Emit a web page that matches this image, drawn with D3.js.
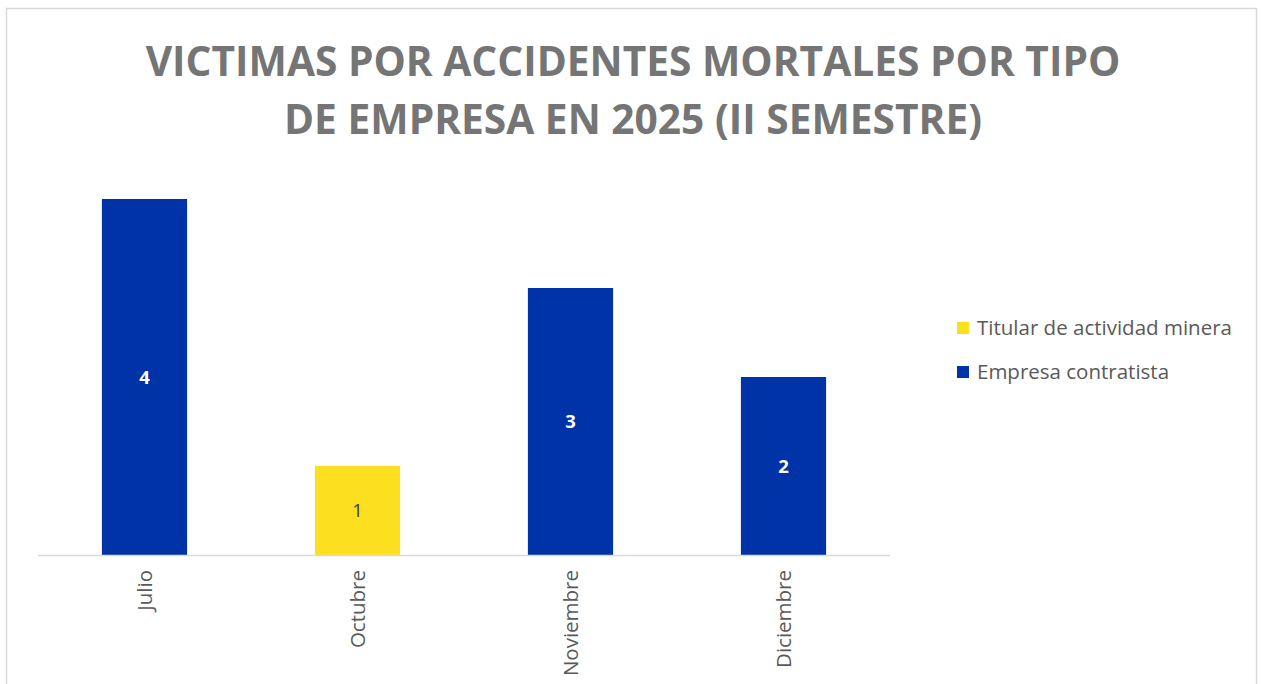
<!DOCTYPE html>
<html>
<head>
<meta charset="utf-8">
<script src="https://cdn.jsdelivr.net/npm/d3@7"></script>
<style>
  html, body { margin: 0; padding: 0; background: #fff; }
  svg { display: block; font-family: 'Open Sans', 'Noto Sans', sans-serif; }
</style>
</head>
<body>
<svg id="chart" width="1261" height="684"></svg>
<script>
const titleLines = ['VICTIMAS POR ACCIDENTES MORTALES POR TIPO', 'DE EMPRESA EN 2025 (II SEMESTRE)'];
const months = ['Julio', 'Octubre', 'Noviembre', 'Diciembre'];
const seriesNames = ['Titular de actividad minera', 'Empresa contratista'];
const titularValues = [0, 1, 0, 0];
const contratistaValues = [4, 0, 3, 2];
const seriesColors = ['#FCDF1F', '#0033A8'];
const labelColors = ['#404040', '#ffffff'];
const labelWeights = ['400', '700'];

const width = 1261;
const height = 684;
const plot = { left: 38, right: 890, top: 199, bottom: 555 };

const svg = d3.select('#chart');

// chart frame
svg.append('rect')
  .attr('x', 6.5).attr('y', 8.5)
  .attr('width', 1250).attr('height', 700)
  .attr('fill', '#fff')
  .attr('stroke', '#d9d9d9')
  .attr('stroke-width', 1.5);

// Title, sized so the first line spans roughly like the reference
const title = svg.append('text')
  .attr('text-anchor', 'middle')
  .attr('fill', '#757575')
  .attr('font-weight', '700');
titleLines.forEach((line, i) => {
  title.append('tspan')
    .attr('x', 633)
    .attr('y', 76 + i * 58)
    .text(line);
});
title.attr('font-size', '40px');
const firstLen = title.select('tspan').node().getComputedTextLength();
title.attr('font-size', (40 * 975 / firstLen).toFixed(1) + 'px');

const rows = months.map((m, i) => ({ month: m, titular: titularValues[i], contratista: contratistaValues[i] }));
const stacked = d3.stack().keys(['titular', 'contratista'])(rows);

const x = d3.scaleBand().domain(months).range([plot.left, plot.right]).paddingInner(0.6).paddingOuter(0.3);
const y = d3.scaleLinear().domain([0, 4]).range([plot.bottom, plot.top]);

// bars
stacked.forEach((layer, si) => {
  const g = svg.append('g');
  layer.forEach((d) => {
    const v = d[1] - d[0];
    if (v <= 0) return;
    g.append('rect')
      .attr('x', x(d.data.month))
      .attr('y', y(d[1]))
      .attr('width', x.bandwidth())
      .attr('height', y(d[0]) - y(d[1]))
      .attr('fill', seriesColors[si]);
    g.append('text')
      .attr('x', x(d.data.month) + x.bandwidth() / 2)
      .attr('y', (y(d[0]) + y(d[1])) / 2)
      .attr('dy', '0.36em')
      .attr('text-anchor', 'middle')
      .attr('fill', labelColors[si])
      .attr('font-weight', labelWeights[si])
      .attr('font-size', '18.5px')
      .text(v);
  });
});

// x axis
const xAxis = svg.append('g')
  .attr('transform', `translate(0,${plot.bottom})`)
  .call(d3.axisBottom(x).tickSize(0).tickPadding(0));
xAxis.select('.domain').attr('stroke', '#d9d9d9').attr('stroke-width', 1.5).attr('d', `M${plot.left},0.5H${plot.right}`);
xAxis.selectAll('.tick text')
  .attr('transform', 'rotate(-90)')
  .attr('x', -15)
  .attr('y', 0)
  .attr('dy', '0.36em')
  .attr('text-anchor', 'end')
  .attr('fill', '#595959')
  .attr('font-size', '20.5px')
  .attr('font-family', "'Open Sans', sans-serif");

// legend
const legend = svg.append('g').attr('transform', 'translate(957,328)');
seriesNames.forEach((name, i) => {
  const row = legend.append('g').attr('transform', `translate(0,${i * 44})`);
  row.append('rect')
    .attr('x', 0).attr('y', -6)
    .attr('width', 12).attr('height', 12)
    .attr('fill', seriesColors[i]);
  row.append('text')
    .attr('x', 20).attr('y', 0)
    .attr('dy', '0.36em')
    .attr('fill', '#595959')
    .attr('font-size', '20.5px')
    .text(name);
});
</script>
</body>
</html>
